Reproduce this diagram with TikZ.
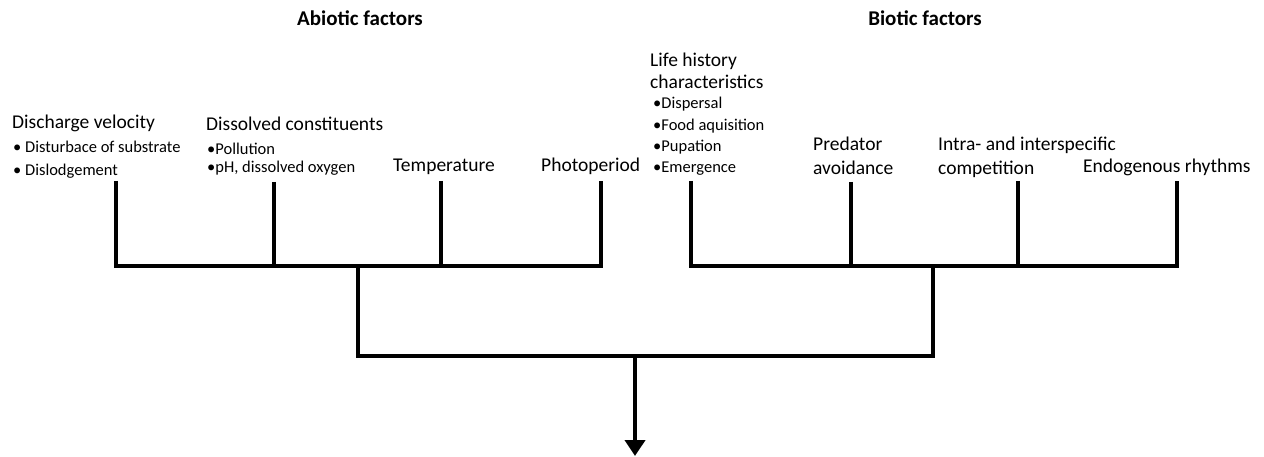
\documentclass[tikz,border=0pt]{standalone}
\usepackage{fontspec}
\setmainfont{Carlito}
\usetikzlibrary{arrows.meta}

\tikzset{
	heading/.style={font=\bfseries\fontsize{21}{24}\selectfont, inner sep=0pt, anchor=base},
	factor/.style={font=\fontsize{19.5}{24}\selectfont, inner sep=0pt, anchor=base west},
	subitem/.style={font=\fontsize{16.5}{20}\selectfont, inner sep=0pt, anchor=base west},
	branch/.style={line width=4.5pt, line join=miter},
}

\begin{document}
\begin{tikzpicture}[x=1pt, y=-1pt]
		\useasboundingbox (0,0) rectangle (1264,457);
		% headings
		\node[heading] (abiotic) at (360, 26) {Abiotic factors};
		\node[heading] (biotic) at (925, 26) {Biotic factors};
		% abiotic labels
		\node[factor] (discharge) at (12, 129) {Discharge velocity};
		\node[subitem] (disturb) at (13, 153) {\textbullet\ Disturbace of substrate};
		\node[subitem] (dislodge) at (13, 176) {\textbullet\ Dislodgement};
		\node[factor] (dissolved) at (206, 131) {Dissolved constituents};
		\node[subitem] (pollution) at (207, 155) {\textbullet Pollution};
		\node[subitem] (ph) at (207, 173) {\textbullet pH, dissolved oxygen};
		\node[factor] (temp) at (393, 172) {Temperature};
		\node[factor] (photo) at (541, 172) {Photoperiod};
		% biotic labels
		\node[factor] (life) at (650, 67) {Life history};
		\node[factor] (charact) at (650, 89) {characteristics};
		\node[subitem] (dispersal) at (653, 109) {\textbullet Dispersal};
		\node[subitem] (food) at (653, 131) {\textbullet Food aquisition};
		\node[subitem] (pupation) at (653, 152) {\textbullet Pupation};
		\node[subitem] (emergence) at (653, 173) {\textbullet Emergence};
		\node[factor] (predator) at (813, 151) {Predator};
		\node[factor] (avoid) at (813, 175) {avoidance};
		\node[factor] (intra) at (938, 151) {Intra- and interspecific};
		\node[factor] (compet) at (938, 175) {competition};
		\node[factor] (endo) at (1083, 173) {Endogenous rhythms};
		% branch points
		\coordinate (a1) at (116, 181);
		\coordinate (a2) at (274, 182);
		\coordinate (a3) at (441, 181);
		\coordinate (a4) at (601, 181);
		\coordinate (b1) at (691, 181);
		\coordinate (b2) at (851, 182);
		\coordinate (b3) at (1018, 181);
		\coordinate (b4) at (1177, 181);
		\coordinate (ajoin) at (358, 266);
		\coordinate (bjoin) at (933, 266);
		\coordinate (out) at (635, 356);
		\coordinate (result) at (635, 456);
		% tree
		\draw[branch] (a1) |- (ajoin) -| (a4);
		\draw[branch] (a2) -- (a2 |- ajoin);
		\draw[branch] (a3) -- (a3 |- ajoin);
		\draw[branch] (b1) |- (bjoin) -| (b4);
		\draw[branch] (b2) -- (b2 |- bjoin);
		\draw[branch] (b3) -- (b3 |- bjoin);
		\draw[branch] (ajoin) |- (out) -| (bjoin);
		\draw[line width=4.5pt, -{Triangle[width=20pt, length=16pt]}] (out) -- (result);
	\end{tikzpicture}
\end{document}
